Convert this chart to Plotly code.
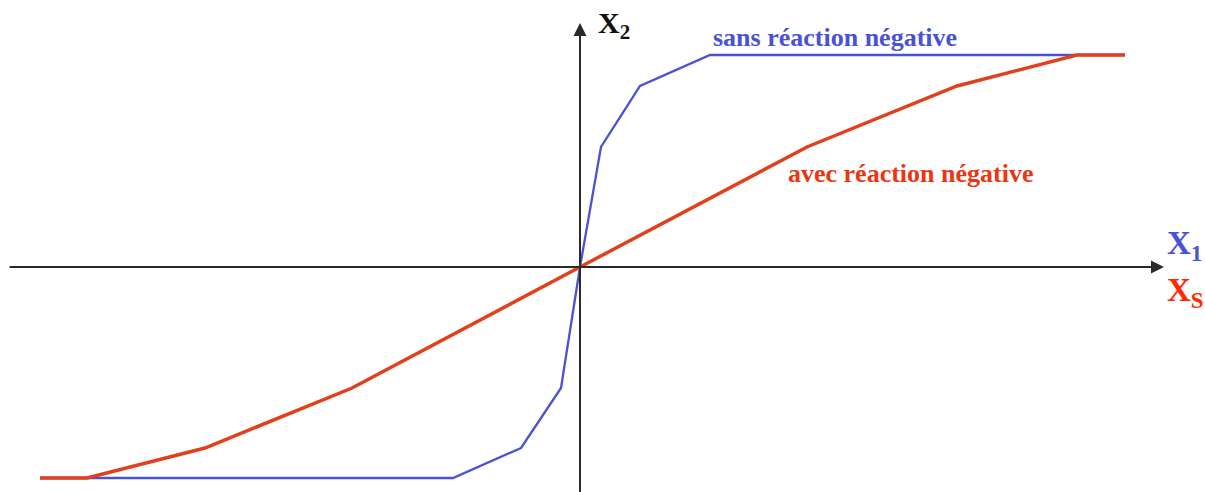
import plotly.graph_objects as go

# Data (x in units of 100 px from origin, y likewise)
red_x = [-5.40, -4.93, -3.75, -2.28, 0.0, 2.27, 3.77, 4.97, 5.45]
red_y = [-2.11, -2.11, -1.81, -1.21, 0.0, 1.20, 1.81, 2.12, 2.12]
blue_x = [-5.40, -1.27, -0.59, -0.19, 0.0, 0.21, 0.60, 1.30, 5.45]
blue_y = [-2.11, -2.11, -1.81, -1.21, 0.0, 1.20, 1.81, 2.12, 2.12]

W, H = 1205, 492
OX, OY = 580, 267

def px(x):
    return (x - OX) / 100.0

def py(y):
    return (OY - y) / 100.0

BLUE = "#4a52d4"
RED = "#e2401c"
RED_TXT = "#ee3410"
FONT = "Liberation Serif"

fig = go.Figure()
fig.add_trace(go.Scatter(x=blue_x, y=blue_y, mode="lines",
                         line=dict(color=BLUE, width=2.3), hoverinfo="skip"))
fig.add_trace(go.Scatter(x=red_x, y=red_y, mode="lines",
                         line=dict(color=RED, width=3.5), hoverinfo="skip"))

ann = []
# horizontal axis with arrow
ann.append(dict(x=px(1164), y=0, ax=px(8), ay=0, xref="x", yref="y", axref="x", ayref="y",
                text="", showarrow=True, arrowhead=2, arrowsize=1.3, arrowwidth=2,
                arrowcolor="#2a2a2a"))
# vertical axis with arrow
ann.append(dict(x=0, y=py(23), ax=0, ay=py(495), xref="x", yref="y", axref="x", ayref="y",
                text="", showarrow=True, arrowhead=2, arrowsize=1.3, arrowwidth=2,
                arrowcolor="#2a2a2a"))

ann.append(dict(x=px(614), y=py(25), xref="x", yref="y", showarrow=False,
                text="<b>X<sub>2</sub></b>", font=dict(family=FONT, size=30, color="#111111")))
ann.append(dict(x=px(835), y=py(37), xref="x", yref="y", showarrow=False,
                text="<b>sans réaction négative</b>", font=dict(family=FONT, size=26, color=BLUE)))
ann.append(dict(x=px(910), y=py(173), xref="x", yref="y", showarrow=False,
                text="<b>avec réaction négative</b>", font=dict(family=FONT, size=26, color=RED_TXT)))
ann.append(dict(x=px(1184), y=py(245), xref="x", yref="y", showarrow=False,
                text="<b>X<sub>1</sub></b>", font=dict(family=FONT, size=33, color=BLUE)))
ann.append(dict(x=px(1185), y=py(292), xref="x", yref="y", showarrow=False,
                text="<b>X<sub>S</sub></b>", font=dict(family=FONT, size=33, color="#ff2a00")))

fig.update_layout(
    width=W, height=H, autosize=False,
    margin=dict(l=0, r=0, t=0, b=0),
    paper_bgcolor="white", plot_bgcolor="white",
    showlegend=False,
    xaxis=dict(range=[px(0), px(W)], visible=False, fixedrange=True),
    yaxis=dict(range=[py(H), py(0)], visible=False, fixedrange=True),
    annotations=ann,
)

fig.write_html("out.html", config={"displayModeBar": False},
               post_script="document.body.style.margin='0';document.body.style.overflow='hidden';")
